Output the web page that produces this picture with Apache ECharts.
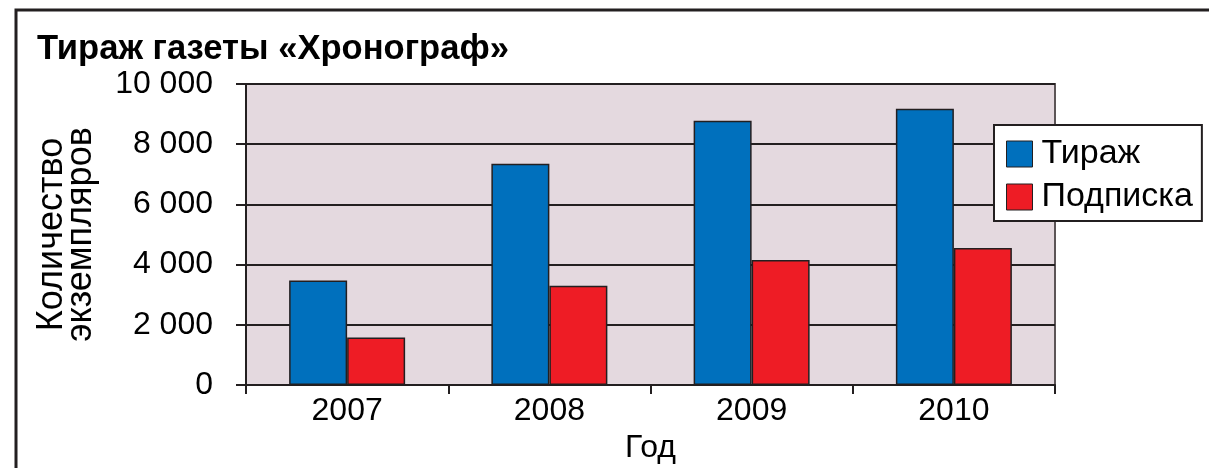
<!DOCTYPE html>
<html>
<head>
<meta charset="utf-8">
<script src="https://cdn.jsdelivr.net/npm/echarts@6/dist/echarts.min.js"></script>
<style>
html,body{margin:0;padding:0;background:#fff;}
#c{width:1209px;height:468px;}
</style>
</head>
<body>
<div id="c"></div>
<script>
const titleText = 'Тираж газеты «Хронограф»';
const categories = ['2007', '2008', '2009', '2010'];
const seriesNames = ['Тираж', 'Подписка'];
const tirazh = [3470, 7350, 8780, 9180];
const podpiska = [1580, 3300, 4150, 4550];
const yTicks = [0, 2000, 4000, 6000, 8000, 10000];

const FONT = '"Liberation Sans", Arial, sans-serif';
const DARK = '#231f20';

const chart = echarts.init(document.getElementById('c'), null, {renderer: 'canvas'});
const fmt = v => String(v).replace(/\B(?=(\d{3})+(?!\d))/g, ' ');

chart.setOption({
  animation: false,
  backgroundColor: '#ffffff',
  title: {
    text: titleText,
    left: 32, top: 27,
    textStyle: {fontFamily: FONT, fontSize: 34.6, fontWeight: 'bold', color: '#000'}
  },
  graphic: [
    {type: 'polyline', shape: {points: [[16, 470], [16, 10], [1212, 10]]},
     style: {stroke: DARK, lineWidth: 3, fill: null}, z: 10}
  ],
  grid: {
    left: 246, top: 84, right: 154, bottom: 83,
    outerBoundsMode: 'none',
    containLabel: false,
    show: true, backgroundColor: '#e4d9df', borderColor: '#5c5557', borderWidth: 2
  },
  legend: {
    orient: 'vertical',
    left: 994, top: 125,
    data: seriesNames,
    backgroundColor: '#ffffff',
    borderColor: DARK, borderWidth: 2,
    padding: [12, 9, 7, 12],
    itemWidth: 26, itemHeight: 26, itemGap: 9,
    icon: 'rect',
    itemStyle: {borderColor: DARK, borderWidth: 1},
    textStyle: {fontFamily: FONT, fontSize: 34, color: '#000', lineHeight: 30, padding: [0, 0, 0, 4]}
  },
  xAxis: {
    type: 'category',
    data: categories,
    name: 'Год',
    nameLocation: 'middle',
    nameGap: 43,
    nameTextStyle: {fontFamily: FONT, fontSize: 32, color: '#000'},
    axisLine: {lineStyle: {color: DARK, width: 2}},
    axisTick: {show: true, alignWithLabel: false, length: 9, lineStyle: {color: DARK, width: 2}},
    axisLabel: {fontFamily: FONT, fontSize: 32, color: '#000', margin: 10},
    splitLine: {show: false}
  },
  yAxis: {
    type: 'value',
    min: 0, max: 10000, interval: 2000,
    name: 'Количество\nэкземпляров',
    nameLocation: 'middle',
    nameGap: 150,
    nameRotate: 90,
    nameTextStyle: {fontFamily: FONT, fontSize: 36, color: '#000', lineHeight: 29},
    axisLine: {show: true, lineStyle: {color: DARK, width: 2}},
    axisTick: {show: true, length: 10, lineStyle: {color: DARK, width: 2}},
    axisLabel: {
      fontFamily: FONT, fontSize: 32, color: '#000', margin: 33,
      formatter: v => yTicks.indexOf(v) >= 0 ? fmt(v) : ''
    },
    splitLine: {show: true, lineStyle: {color: DARK, width: 2}}
  },
  series: [
    {name: seriesNames[0], type: 'bar', data: tirazh, barWidth: 58, barGap: '0%',
     itemStyle: {color: '#0070bd', borderColor: DARK, borderWidth: 1.5}},
    {name: seriesNames[1], type: 'bar', data: podpiska, barWidth: 58, barGap: '0%',
     itemStyle: {color: '#ee1c25', borderColor: DARK, borderWidth: 1.5}}
  ]
});
</script>
</body>
</html>
